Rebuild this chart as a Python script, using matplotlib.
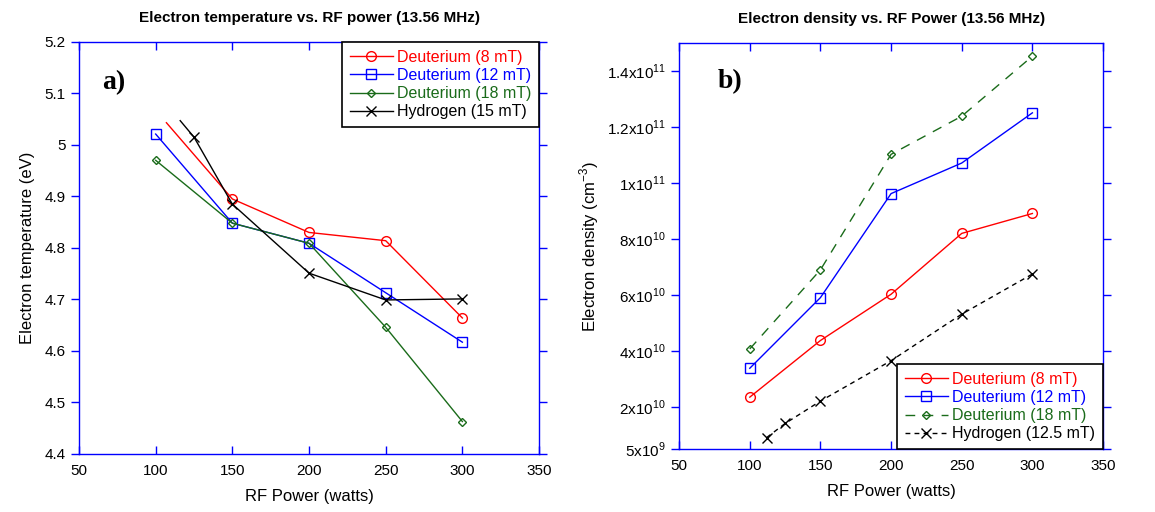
import matplotlib.pyplot as plt

plt.rcParams['font.family'] = ['Liberation Sans', 'DejaVu Sans']
plt.rcParams['mathtext.fontset'] = 'custom'
plt.rcParams['mathtext.rm'] = 'Liberation Sans'

# panel a) electron temperature (eV)
d8_power = [107, 150, 200, 250, 300]
d8_te = [5.043, 4.895, 4.830, 4.814, 4.664]
d12_power = [100, 150, 200, 250, 300]
d12_te = [5.021, 4.848, 4.809, 4.713, 4.617]
d18_power = [100, 150, 200, 250, 300]
d18_te = [4.970, 4.848, 4.809, 4.646, 4.463]
h15_power = [116, 125, 150, 200, 250, 300]
h15_te = [5.047, 5.015, 4.885, 4.751, 4.699, 4.701]

# panel b) electron density (cm^-3)
nd_power = [100, 150, 200, 250, 300]
d8_ne = [2.36e10, 4.38e10, 6.03e10, 8.20e10, 8.91e10]
d12_ne = [3.39e10, 5.91e10, 9.62e10, 1.071e11, 1.25e11]
d18_ne = [4.08e10, 6.90e10, 1.102e11, 1.238e11, 1.452e11]
h_power = [112, 125, 150, 200, 250, 300]
h_ne = [9.2e9, 1.42e10, 2.22e10, 3.66e10, 5.32e10, 6.75e10]

ne_ticks = [5e9, 2e10, 4e10, 6e10, 8e10, 1e11, 1.2e11, 1.4e11]
ne_labels = ['5x10$^{9}$', '2x10$^{10}$', '4x10$^{10}$', '6x10$^{10}$', '8x10$^{10}$',
             '1x10$^{11}$', '1.2x10$^{11}$', '1.4x10$^{11}$']

fig = plt.figure(figsize=(11.55, 5.12), dpi=100)
ax1 = fig.add_axes([0.0684, 0.1133, 0.3983, 0.805])
ax2 = fig.add_axes([0.588, 0.1225, 0.367, 0.794])

blue = '#0000ff'
green = '#1a6b1a'


def style(ax):
    for s in ax.spines.values():
        s.set_color(blue)
        s.set_linewidth(1.0)
    ax.tick_params(axis='x', direction='in', length=6, color=blue, width=1,
                   top=True, labelsize=11, pad=7)
    ax.tick_params(axis='y', direction='out', length=6, color=blue, width=1,
                   right=True, labelsize=11)


def legend(ax, loc):
    leg = ax.legend(loc=loc, fontsize=11.5, fancybox=False, framealpha=1,
                    edgecolor='black', borderaxespad=0, handlelength=2.7,
                    handletextpad=0.25, labelspacing=0.2, borderpad=0.5)
    leg.get_frame().set_linewidth(1.2)
    for t, c in zip(leg.get_texts(), ['red', blue, green, 'black']):
        t.set_color(c)


# ---- a)
ax1.plot(d8_power, d8_te, '-o', color='red', lw=1, ms=7, mfc='none', mew=1,
         markevery=[1, 2, 3, 4], label='Deuterium (8 mT)')
ax1.plot(d12_power, d12_te, '-s', color=blue, lw=1, ms=7, mfc='none', mew=1,
         label='Deuterium (12 mT)')
ax1.plot(d18_power, d18_te, '-D', color=green, lw=1, ms=4.5, mfc='none', mew=1,
         label='Deuterium (18 mT)')
ax1.plot(h15_power, h15_te, '-x', color='black', lw=1, ms=7, mew=1,
         markevery=[1, 2, 3, 4, 5], label='Hydrogen (15 mT)')
ax1.set_xlim(50, 350)
ax1.set_ylim(4.4, 5.2)
ax1.set_xticks([50, 100, 150, 200, 250, 300, 350])
ax1.set_yticks([4.4, 4.5, 4.6, 4.7, 4.8, 4.9, 5.0, 5.1, 5.2])
ax1.set_yticklabels(['4.4', '4.5', '4.6', '4.7', '4.8', '4.9', '5', '5.1', '5.2'])
style(ax1)
ax1.set_xlabel('RF Power (watts)', fontsize=12, labelpad=8)
ax1.set_ylabel('Electron temperature (eV)', fontsize=12, labelpad=7)
ax1.set_title('Electron temperature vs. RF power (13.56 MHz)', fontsize=11,
              fontweight='bold', pad=14)
ax1.text(0.05, 0.9, 'a)', transform=ax1.transAxes, fontsize=20, fontweight='bold',
         family='Liberation Serif', va='center')
legend(ax1, 'upper right')

# ---- b)
ax2.plot(nd_power, d8_ne, '-o', color='red', lw=1, ms=7, mfc='none', mew=1,
         label='Deuterium (8 mT)')
ax2.plot(nd_power, d12_ne, '-s', color=blue, lw=1, ms=7, mfc='none', mew=1,
         label='Deuterium (12 mT)')
ax2.plot(nd_power, d18_ne, 'D', color=green, ls=(0, (7, 6)), lw=1, ms=4.5,
         mfc='none', mew=1, label='Deuterium (18 mT)')
ax2.plot(h_power, h_ne, 'x', color='black', ls=(0, (3.5, 3)), lw=1, ms=7, mew=1,
         label='Hydrogen (12.5 mT)')
ax2.set_xlim(50, 350)
ax2.set_ylim(5e9, 1.5e11)
ax2.set_xticks([50, 100, 150, 200, 250, 300, 350])
ax2.set_yticks(ne_ticks)
ax2.set_yticklabels(ne_labels)
style(ax2)
ax2.set_xlabel('RF Power (watts)', fontsize=12, labelpad=8)
ax2.set_ylabel('Electron density (cm$^{-3}$)', fontsize=12, labelpad=4)
ax2.set_title('Electron density vs. RF Power (13.56 MHz)', fontsize=11,
              fontweight='bold', pad=14)
ax2.text(0.092, 0.904, 'b)', transform=ax2.transAxes, fontsize=20, fontweight='bold',
         family='Liberation Serif', va='center')
legend(ax2, 'lower right')

fig.savefig('out.png', dpi=100)
